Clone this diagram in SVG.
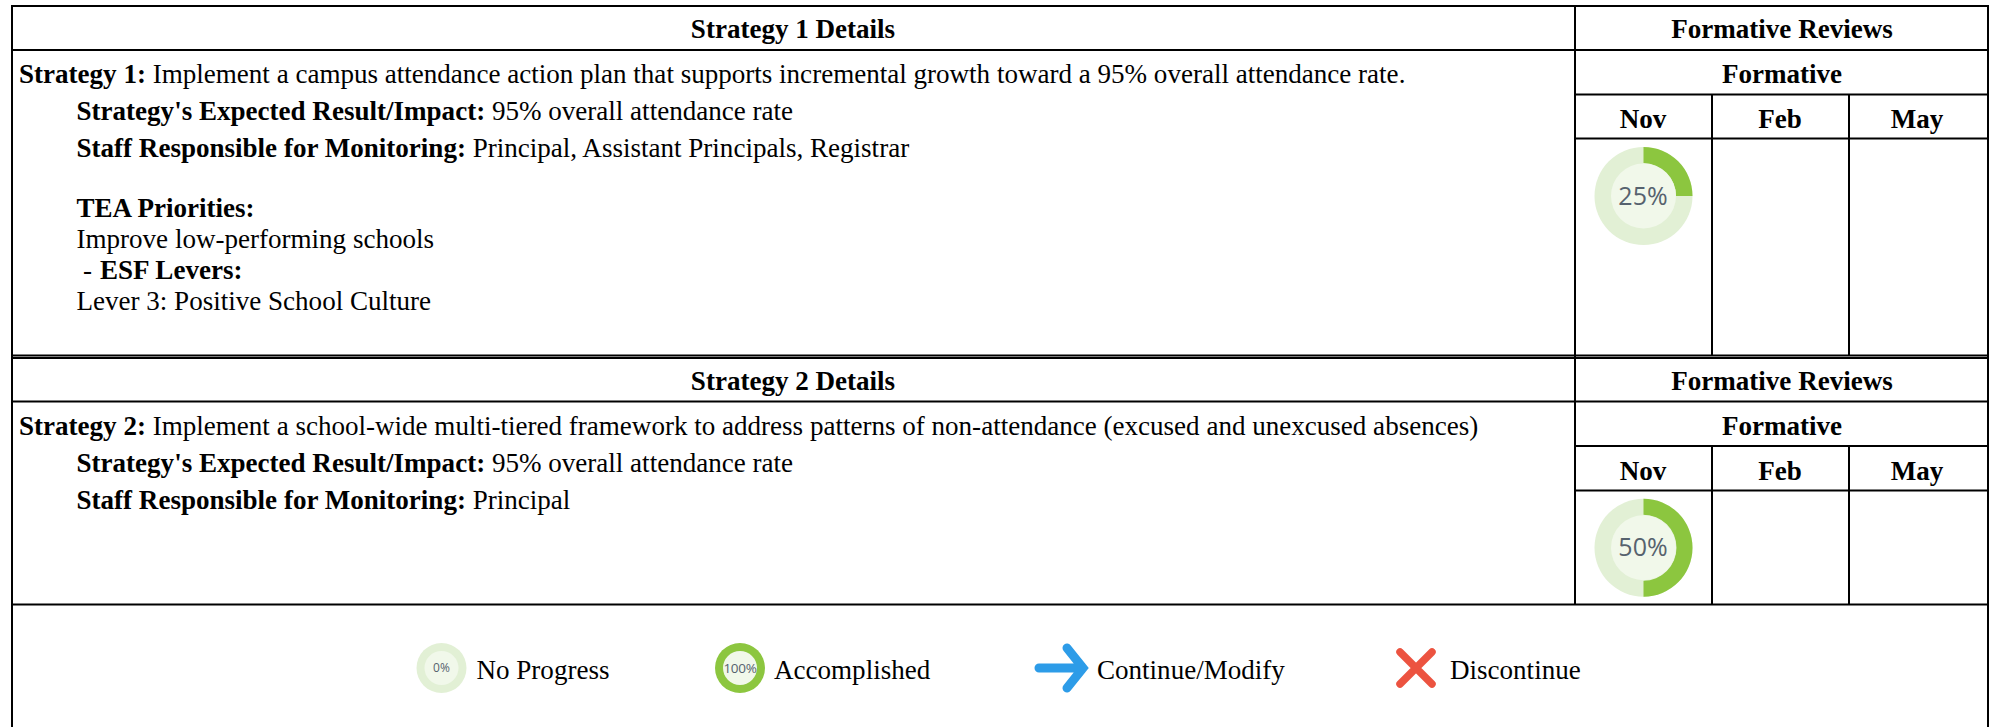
<svg xmlns="http://www.w3.org/2000/svg" width="1993" height="727" viewBox="0 0 1993 727">
<style>
text{font-family:"Liberation Serif","Times New Roman",serif;font-size:27.050px;fill:#000}
.b{font-weight:700}
.m{text-anchor:middle}
.l{stroke:#000;stroke-width:2;fill:none}
text.p{font-family:"Open Sans","Liberation Sans",sans-serif;fill:#56626e;text-anchor:middle}
.r{font-size:25px !important}
.s{font-size:12px !important}
.t{font-size:13.500px !important;letter-spacing:-.3px}
.tr{fill:#e2f0d5}.in{fill:#f1f8ea}.ar{fill:#8cc63f}
</style>
<rect width="1993" height="727" fill="#fff"/>
<g id="grid">
<path class="l" d="M12 6H1988M12 50H1988M1575 94.500H1988M1575 138.500H1988M12 355.500H1988M12 358H1988M12 401.500H1988M1575 446H1988M1575 490.500H1988M12 604.500H1988"/>
<path class="l" d="M12 5V727M1988 5V727M1575 5V604.500M1712 94.500V356M1849 94.500V356M1712 446V604.500M1849 446V604.500"/>
</g>
<g id="strategy-1">
<text class="b m" x="793" y="38">Strategy 1 Details</text>
<text x="19" y="82.500"><tspan class="b">Strategy 1:</tspan> Implement a campus attendance action plan that supports incremental growth toward a 95% overall attendance rate.</text>
<text x="76.500" y="119.500"><tspan class="b">Strategy's Expected Result/Impact:</tspan> 95% overall attendance rate</text>
<text x="76.500" y="156.500"><tspan class="b">Staff Responsible for Monitoring:</tspan> Principal, Assistant Principals, Registrar</text>
<text class="b" x="76.500" y="217">TEA Priorities:</text>
<text x="76.500" y="248">Improve low-performing schools</text>
<text x="83" y="279">-</text>
<text class="b" x="100" y="279">ESF Levers:</text>
<text x="76.500" y="310">Lever 3: Positive School Culture</text>
</g>
<g id="reviews-1">
<text class="b m" x="1782" y="38">Formative Reviews</text>
<text class="b m" x="1782" y="82.500">Formative</text>
<text class="b m" x="1643" y="127.500">Nov</text>
<text class="b m" x="1780" y="127.500">Feb</text>
<text class="b m" x="1917" y="127.500">May</text>
</g>
<g id="progress-25">
<circle class="tr" cx="1643.500" cy="196" r="49"/>
<path class="ar" d="M1643.500 147A49 49 0 0 1 1692.500 196H1676A33 33 0 0 0 1643.500 163Z"/>
<circle class="in" cx="1643.500" cy="196" r="32.500"/>
<text class="p r" x="1643" y="204.500">25%</text>
</g>
<g id="strategy-2">
<text class="b m" x="793" y="390">Strategy 2 Details</text>
<text x="19" y="434.500"><tspan class="b">Strategy 2:</tspan> Implement a school-wide multi-tiered framework to address patterns of non-attendance (excused and unexcused absences)</text>
<text x="76.500" y="471.500"><tspan class="b">Strategy's Expected Result/Impact:</tspan> 95% overall attendance rate</text>
<text x="76.500" y="508.500"><tspan class="b">Staff Responsible for Monitoring:</tspan> Principal</text>
</g>
<g id="reviews-2">
<text class="b m" x="1782" y="390">Formative Reviews</text>
<text class="b m" x="1782" y="434.500">Formative</text>
<text class="b m" x="1643" y="479.500">Nov</text>
<text class="b m" x="1780" y="479.500">Feb</text>
<text class="b m" x="1917" y="479.500">May</text>
</g>
<g id="progress-50">
<circle class="tr" cx="1643.500" cy="547.700" r="49"/>
<path class="ar" d="M1643.500 498.700A49 49 0 0 1 1643.500 596.700V580.700A33 33 0 0 0 1643.500 514.700Z"/>
<circle class="in" cx="1643.500" cy="547.700" r="32.500"/>
<text class="p r" x="1643" y="556">50%</text>
</g>
<g id="legend-no-progress">
<circle class="tr" cx="441.500" cy="668" r="25"/>
<circle class="in" cx="441.500" cy="668" r="17"/>
<text class="p s" x="441.500" y="672">0%</text>
<text x="476.500" y="679">No Progress</text>
</g>
<g id="legend-accomplished">
<circle class="ar" cx="740" cy="668" r="25"/>
<circle class="in" cx="740" cy="668" r="17"/>
<text class="p t" x="740" y="672.500">100%</text>
<text x="774" y="679">Accomplished</text>
</g>
<g id="legend-continue">
<path d="M1039 668H1080M1067 648L1083 668L1067 688" fill="none" stroke="#2d9ce8" stroke-width="9" stroke-linecap="round" stroke-linejoin="miter"/>
<text x="1097" y="679">Continue/Modify</text>
</g>
<g id="legend-discontinue">
<path d="M1400 652L1432 684M1432 652L1400 684" fill="none" stroke="#ec5340" stroke-width="7.500" stroke-linecap="round"/>
<text x="1450" y="679">Discontinue</text>
</g>
<g id="connectors"/>
</svg>
